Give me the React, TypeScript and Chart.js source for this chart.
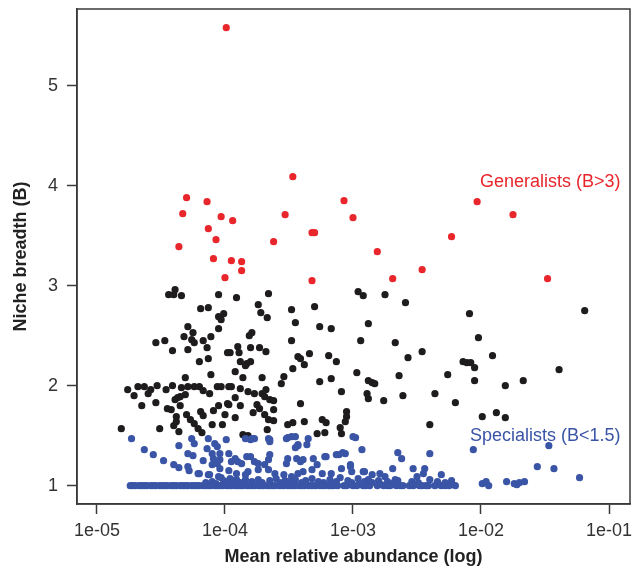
import React, { useEffect, useRef } from "react";
import { Chart, registerables } from "chart.js";

Chart.register(...registerables);

// ---- Data (x stored as log10 of mean relative abundance) ----
const generalistLogAbundance = [-3.99, -4.30, -4.33, -4.36, -4.14, -4.03, -3.94, -4.13, -4.07, -4.09, -3.95, -3.87, -3.87, -4.00, -3.62, -3.47, -3.53, -3.32, -3.30, -3.32, -3.07, -3.00, -2.81, -2.69, -2.46, -2.23, -2.03, -1.75, -1.48];
const generalistBreadth = [5.58, 3.88, 3.72, 3.39, 3.84, 3.69, 3.65, 3.57, 3.46, 3.27, 3.25, 3.24, 3.15, 3.08, 3.44, 4.09, 3.71, 3.53, 3.53, 3.05, 3.85, 3.68, 3.34, 3.07, 3.16, 3.49, 3.84, 3.71, 3.07];

const otherLogAbundance = [
  -4.44, -4.40, -4.39, -4.34, -4.05, -4.19, -4.13, -4.05, -4.03, -4.01, -4.29, -4.25, -4.32, -4.26, -4.24, -4.05, -4.54, -4.47, -4.17, -4.11,
  -4.41, -4.29, -4.14, -3.98, -4.20, -4.13, -4.11, -4.31, -4.76, -4.71, -4.68, -4.63, -4.60, -4.58, -4.53, -4.46, -4.41, -4.34, -4.31, -4.29,
  -4.24, -4.20, -4.17, -4.12, -4.06, -4.03, -3.97, -4.39, -4.35, -4.37, -4.65, -4.54, -4.45, -4.42, -4.35, -4.05, -3.98, -4.09, -4.30, -4.27,
  -4.19, -4.17, -4.38, -4.38, -4.40, -4.00, -4.24, -4.21, -4.18, -4.10, -4.02, -4.51, -4.36, -4.81, -3.91, -3.66, -3.74, -3.72, -3.67, -3.48,
  -3.30, -3.45, -3.26, -3.17, -3.79, -3.81, -3.48, -3.96, -3.90, -3.89, -3.80, -3.73, -3.68, -3.43, -3.41, -3.38, -3.34, -3.19, -3.13, -3.88,
  -3.83, -3.80, -3.84, -3.47, -3.92, -3.86, -3.71, -3.54, -3.56, -3.26, -3.17, -3.95, -3.88, -3.82, -3.77, -3.71, -3.68, -3.69, -3.65, -3.62,
  -3.09, -3.92, -3.97, -3.88, -3.75, -3.73, -3.78, -3.62, -3.69, -3.66, -3.62, -3.41, -3.92, -3.51, -3.47, -3.38, -3.24, -3.21, -3.05, -3.05,
  -3.06, -3.67, -3.10, -3.09, -3.28, -3.22, -3.86, -3.82, -2.96, -2.92, -2.75, -2.59, -2.09, -2.88, -2.94, -2.67, -2.46, -2.57, -2.14, -2.11,
  -2.97, -2.64, -2.26, -2.88, -2.85, -2.83, -2.89, -2.88, -2.76, -2.61, -2.36, -2.20, -2.40, -1.19, -2.02, -1.91, -2.08, -2.05, -1.39, -2.05,
  -1.81, -1.67, -1.99, -1.88, -1.81,
];
const otherBreadth = [
  2.91, 2.91, 2.96, 2.90, 2.91, 2.77, 2.78, 2.69, 2.66, 2.72, 2.59, 2.53, 2.49, 2.46, 2.43, 2.57, 2.43, 2.45, 2.45, 2.49,
  2.35, 2.36, 2.38, 2.33, 2.24, 2.27, 2.11, 2.08, 1.96, 1.90, 1.99, 1.99, 1.92, 1.96, 2.00, 1.96, 2.00, 1.98, 1.91, 1.99,
  1.99, 1.99, 1.95, 1.92, 1.99, 1.99, 1.99, 1.86, 1.89, 1.88, 1.80, 1.83, 1.77, 1.76, 1.80, 1.80, 1.82, 1.75, 1.71, 1.66,
  1.74, 1.70, 1.69, 1.64, 1.60, 1.71, 1.62, 1.57, 1.53, 1.61, 1.61, 1.57, 1.54, 1.57, 2.88, 2.92, 2.81, 2.73, 2.68, 2.76,
  2.79, 2.63, 2.59, 2.57, 2.53, 2.50, 2.45, 2.33, 2.39, 2.33, 2.38, 2.38, 2.34, 2.29, 2.27, 2.21, 2.32, 2.30, 2.24, 2.24,
  2.22, 2.24, 2.20, 2.17, 2.14, 2.08, 2.08, 2.09, 2.02, 2.04, 2.07, 1.99, 1.97, 1.94, 1.92, 1.92, 1.96, 1.89, 1.86, 1.85,
  1.94, 1.88, 1.81, 1.80, 1.81, 1.77, 1.73, 1.76, 1.71, 1.66, 1.65, 1.82, 1.68, 1.61, 1.63, 1.64, 1.66, 1.63, 1.74, 1.69,
  1.64, 1.56, 1.58, 1.52, 1.52, 1.53, 1.51, 1.50, 2.94, 2.90, 2.91, 2.83, 2.72, 2.62, 2.45, 2.43, 2.34, 2.28, 2.24, 2.23,
  2.13, 2.10, 2.11, 2.05, 2.03, 2.02, 1.92, 1.87, 1.85, 1.90, 1.92, 1.83, 1.61, 2.75, 2.48, 2.30, 2.23, 2.18, 2.16, 2.05,
  2.00, 2.05, 1.69, 1.73, 1.68,
];

const specialistLogAbundance = [
  -4.73, -4.63, -4.56, -4.48, -4.40, -4.36, -4.28, -4.20, -4.13, -4.05, -4.03, -3.96, -3.91, -3.84, -4.36, -4.29, -4.25, -4.17, -4.10, -4.04,
  -3.97, -3.91, -3.84, -4.26, -4.24, -4.13, -4.14, -4.08, -4.06, -4.10, -4.04, -4.09, -4.04, -3.99, -3.97, -3.92, -3.90, -3.87, -3.83, -3.84,
  -3.80, -3.65, -3.51, -3.45, -3.43, -3.45, -3.35, -3.80, -3.77, -3.74, -3.66, -3.65, -3.69, -3.51, -3.52, -3.44, -3.41, -3.39, -3.31, -3.22,
  -3.11, -3.08, -2.93, -3.82, -3.74, -3.66, -3.61, -3.54, -3.48, -3.43, -3.39, -3.32, -3.28, -3.24, -3.17, -3.09, -3.02, -3.01, -2.92, -2.85,
  -3.06, -2.88, -2.98, -2.65, -2.62, -2.40, -2.06, -2.69, -2.53, -2.44, -2.31, -2.79, -2.75, -2.67, -2.50, -2.45, -2.40, -1.47, -1.56, -1.43,
  -1.23, -1.99, -1.96, -1.94, -1.80, -1.74, -1.72, -1.70, -1.66,
  -4.06, -3.95, -3.79, -3.77, -3.66, -3.65, -3.52, -3.48, -3.43, -3.36, -3.21, -3.13, -3.00, -3.02, -2.91, -4.29, -4.21, -4.12,
  -4.15, -4.10, -4.07, -4.01, -3.99, -3.94,
  -3.98, -3.93, -3.88, -3.79, -3.74, -3.71, -3.65, -3.60, -3.57, -3.53, -3.49, -3.45, -3.40, -3.37, -3.32, -3.27, -3.23, -3.18, -3.13, -3.10,
  -3.04, -3.01, -2.96, -2.91, -2.85, -2.80, -2.73, -2.68, -2.65, -2.54, -2.49, -2.34, -2.28, -2.23,
  -4.74, -4.72, -4.70, -4.67, -4.65, -4.63, -4.61, -4.58, -4.56, -4.54, -4.51, -4.49, -4.47, -4.45, -4.42, -4.40, -4.38, -4.35, -4.33, -4.31,
  -4.29, -4.26, -4.24, -4.22, -4.20, -4.17, -4.15, -4.13, -4.11, -4.08, -4.06, -4.04, -4.02, -3.99, -3.97, -3.95, -3.92, -3.90, -3.88, -3.86,
  -3.83, -3.81, -3.79, -3.77, -3.74, -3.72, -3.70, -3.67, -3.65, -3.63, -3.61, -3.58, -3.56, -3.54, -3.51, -3.49, -3.47, -3.45, -3.42, -3.40,
  -3.38, -3.35, -3.33, -3.31, -3.29, -3.26, -3.24, -3.22, -3.19, -3.17, -3.15, -3.12,
  -3.07, -3.05, -3.02, -3.00, -2.97, -2.95, -2.92, -2.90, -2.87,
  -2.81, -2.78, -2.76, -2.73, -2.71, -2.68, -2.66, -2.63, -2.61,
  -2.56, -2.53, -2.51, -2.48, -2.46, -2.43, -2.41,
  -2.36, -2.33, -2.31, -2.28, -2.25, -2.23, -2.20,
];
const specialistBreadth = [
  1.47, 1.36, 1.31, 1.25, 1.21, 1.18, 1.15, 1.12, 1.11, 1.09, 1.08, 1.07, 1.06, 1.06, 1.40, 1.32, 1.30, 1.25, 1.21, 1.17,
  1.15, 1.12, 1.11, 1.47, 1.42, 1.47, 1.37, 1.42, 1.39, 1.32, 1.32, 1.27, 1.26, 1.46, 1.32, 1.27, 1.24, 1.22, 1.29, 1.47,
  1.46, 1.46, 1.48, 1.49, 1.40, 1.38, 1.47, 1.29, 1.24, 1.22, 1.26, 1.31, 1.21, 1.27, 1.22, 1.27, 1.24, 1.26, 1.27, 1.29,
  1.31, 1.33, 1.36, 1.14, 1.16, 1.16, 1.12, 1.11, 1.09, 1.12, 1.14, 1.16, 1.21, 1.12, 1.12, 1.17, 1.21, 1.14, 1.14, 1.11,
  1.32, 1.06, 1.48, 1.33, 1.27, 1.32, 1.36, 1.17, 1.17, 1.17, 1.11, 1.12, 1.09, 1.06, 1.09, 1.12, 1.06, 1.40, 1.19, 1.17,
  1.08, 1.02, 1.04, 1.00, 1.04, 1.02, 1.01, 1.03, 1.04,
  1.22, 1.24, 1.47, 1.47, 1.47, 1.44, 1.47, 1.49, 1.41, 1.41, 1.29, 1.31, 1.49, 1.19, 1.14, 1.19, 1.12, 1.11,
  1.03, 1.04, 1.02, 1.05, 1.03, 1.02,
  1.04, 1.05, 1.03, 1.04, 1.06, 1.03, 1.05, 1.07, 1.03, 1.05, 1.04, 1.06, 1.03, 1.05, 1.07, 1.04, 1.03, 1.06, 1.04, 1.08,
  1.05, 1.03, 1.07, 1.04, 1.03, 1.05, 1.04, 1.03, 1.05, 1.04, 1.03, 1.04, 1.03, 1.05,
  1.00, 1.00, 1.00, 1.00, 1.00, 1.00, 1.00, 1.00, 1.00, 1.00, 1.00, 1.00, 1.00, 1.00, 1.00, 1.00, 1.00, 1.00, 1.00, 1.00,
  1.00, 1.00, 1.00, 1.00, 1.00, 1.00, 1.00, 1.00, 1.00, 1.00, 1.00, 1.00, 1.00, 1.00, 1.00, 1.00, 1.00, 1.00, 1.00, 1.00,
  1.00, 1.00, 1.00, 1.00, 1.00, 1.00, 1.00, 1.00, 1.00, 1.00, 1.00, 1.00, 1.00, 1.00, 1.00, 1.00, 1.00, 1.00, 1.00, 1.00,
  1.00, 1.00, 1.00, 1.00, 1.00, 1.00, 1.00, 1.00, 1.00, 1.00, 1.00, 1.00,
  1.00, 1.00, 1.01, 1.00, 1.00, 1.01, 1.00, 1.00, 1.00,
  1.00, 1.01, 1.00, 1.00, 1.00, 1.01, 1.00, 1.00, 1.00,
  1.00, 1.00, 1.01, 1.00, 1.00, 1.00, 1.00,
  1.00, 1.01, 1.00, 1.00, 1.00, 1.01, 1.00,
];

const xTickValues = [1e-5, 1e-4, 1e-3, 1e-2, 1e-1];
const xTickLabels = ["1e-05", "1e-04", "1e-03", "1e-02", "1e-01"];
const yTickValues = [1, 2, 3, 4, 5];
const yTickLabels = ["1", "2", "3", "4", "5"];

const annotationTexts = ["Generalists (B>3)", "Specialists (B<1.5)"];
const annotationLogX = [-0.91, -0.91];
const annotationY = [3.99, 1.445];
const annotationColors = ["#e8262b", "#3a55a6"];

const RED = "#e8262b";
const BLUE = "#3a55a6";
const BLACK = "#1e1c1d";
const FONT = '"Liberation Sans", Arial, Helvetica, sans-serif';

function toPoints(logs: number[], ys: number[]) {
  return logs.map((l, i) => ({ x: Math.pow(10, l), y: ys[i] }));
}

const framePlugin = {
  id: "frameAndLabels",
  afterDraw(chart: any) {
    const { ctx, chartArea: a, scales } = chart;
    ctx.save();
    ctx.strokeStyle = "#3a3a3a";
    ctx.lineWidth = 1.5;
    ctx.strokeRect(a.left, a.top, a.right - a.left, a.bottom - a.top);
    ctx.font = `18px ${FONT}`;
    ctx.textAlign = "right";
    ctx.textBaseline = "alphabetic";
    annotationTexts.forEach((t, i) => {
      ctx.fillStyle = annotationColors[i];
      const px = scales.x.getPixelForValue(Math.pow(10, annotationLogX[i]));
      const py = scales.y.getPixelForValue(annotationY[i]);
      ctx.fillText(t, px, py);
    });
    ctx.restore();
  },
};

export default function App() {
  const canvasRef = useRef<HTMLCanvasElement | null>(null);

  useEffect(() => {
    if (!canvasRef.current) return;
    const common = { pointRadius: 3.6, pointHoverRadius: 3.6, borderWidth: 0, showLine: false };
    const chart = new Chart(canvasRef.current, {
      type: "scatter",
      data: {
        datasets: [
          { label: "Specialists", data: toPoints(specialistLogAbundance, specialistBreadth), backgroundColor: BLUE, borderColor: BLUE, ...common },
          { label: "Other", data: toPoints(otherLogAbundance, otherBreadth), backgroundColor: BLACK, borderColor: BLACK, ...common },
          { label: "Generalists", data: toPoints(generalistLogAbundance, generalistBreadth), backgroundColor: RED, borderColor: RED, ...common },
        ],
      },
      options: {
        responsive: false,
        animation: false,
        events: [],
        layout: { padding: { left: 0, top: 9, right: 5, bottom: 0 } },
        plugins: { legend: { display: false }, tooltip: { enabled: false } },
        scales: {
          x: {
            type: "logarithmic",
            min: Math.pow(10, -5.156),
            max: Math.pow(10, -0.836),
            afterBuildTicks: (s: any) => {
              s.ticks = xTickValues.map((v) => ({ value: v }));
            },
            afterFit: (s: any) => {
              s.height = 64;
              s.paddingLeft = 0;
              s.paddingRight = 0;
            },
            ticks: {
              autoSkip: false,
              maxRotation: 0,
              color: "#333",
              font: { family: FONT, size: 18 },
              padding: 6,
              callback: (_v: any, i: number) => xTickLabels[i],
            },
            grid: { drawOnChartArea: false, drawTicks: true, tickLength: 10, tickWidth: 1.5, tickColor: "#3a3a3a" },
            border: { display: true, color: "#3a3a3a", width: 1.5 },
            title: {
              display: true,
              text: "Mean relative abundance (log)",
              color: "#222",
              font: { family: FONT, size: 18, weight: "bold" },
              padding: { top: 0, bottom: 0 },
            },
          },
          y: {
            type: "linear",
            min: 0.817,
            max: 5.767,
            afterBuildTicks: (s: any) => {
              s.ticks = yTickValues.map((v) => ({ value: v }));
            },
            afterFit: (s: any) => {
              s.width = 77;
              s.paddingTop = 0;
              s.paddingBottom = 0;
            },
            ticks: {
              autoSkip: false,
              color: "#333",
              font: { family: FONT, size: 18 },
              padding: 9,
              callback: (_v: any, i: number) => yTickLabels[i],
            },
            grid: { drawOnChartArea: false, drawTicks: true, tickLength: 10, tickWidth: 1.5, tickColor: "#3a3a3a" },
            border: { display: true, color: "#3a3a3a", width: 1.5 },
            title: {
              display: true,
              text: "Niche breadth (B)",
              color: "#222",
              font: { family: FONT, size: 18, weight: "bold" },
              padding: { top: 10, bottom: 0 },
            },
          },
        },
      },
      plugins: [framePlugin],
    } as any);
    return () => chart.destroy();
  }, []);

  return (
    <div style={{ position: "absolute", left: 0, top: 0, width: 635, height: 568, background: "#fff" }}>
      <canvas ref={canvasRef} width={635} height={568} style={{ display: "block" }} />
    </div>
  );
}
